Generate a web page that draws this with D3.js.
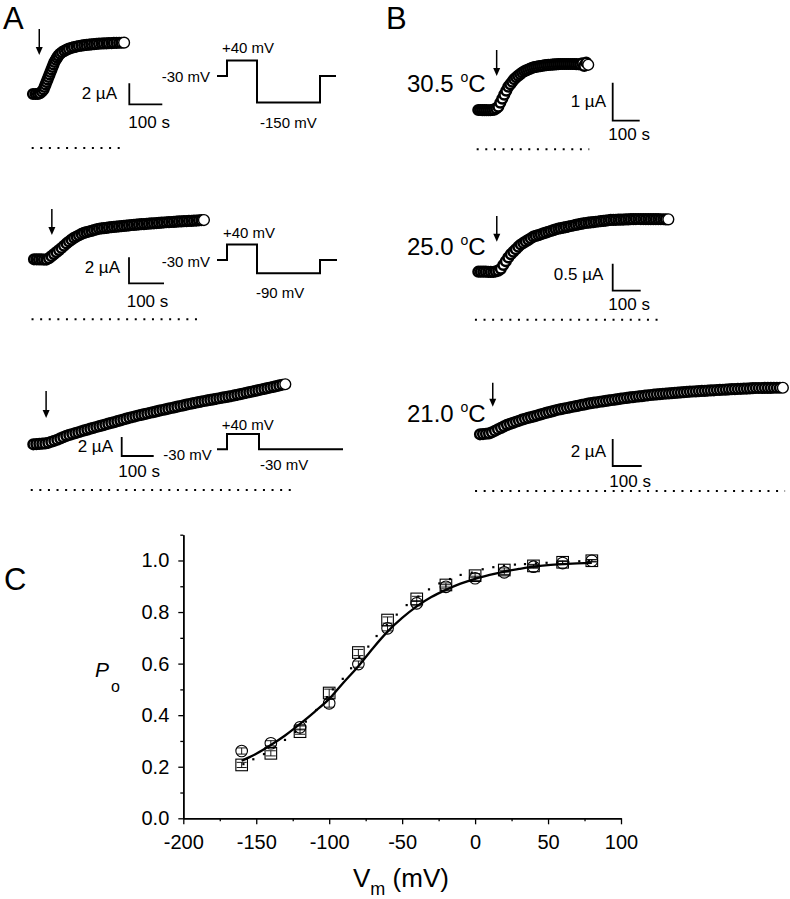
<!DOCTYPE html>
<html><head><meta charset="utf-8">
<script src="https://cdn.jsdelivr.net/npm/d3@7"></script>
<style>
body{margin:0;background:#fff}
svg{display:block}
text{font-family:"Liberation Sans",Arial,Helvetica,sans-serif;fill:#000}
</style>
</head><body>
<svg id="fig" width="790" height="899"></svg>
<script>
// ---------------- DATA ----------------
// Current traces (time in s, current in µA relative to start)
const traceA1Time = [0,8,15,21,27,32,35,38,41,44,47,50,53,56,59,62,65,69,73,77,82,88,95,102,109,117,124,132,139,147,155,162,170,177,185,192,200,208,215,223,230,238,245,253,261,268,276];
const traceA1Current = [0,0,0,0.07,0.24,0.43,0.67,0.90,1.14,1.38,1.62,1.86,2.10,2.33,2.57,2.81,3.05,3.26,3.47,3.66,3.83,3.98,4.11,4.23,4.32,4.40,4.47,4.52,4.57,4.61,4.65,4.67,4.70,4.73,4.75,4.77,4.79,4.81,4.82,4.83,4.84,4.85,4.86,4.87,4.88,4.88,4.89];

const traceA2Step = 7.14; // s between samples
const traceA2Current = [0,0,-0.01,-0.01,-0.02,-0.02,0.09,0.24,0.40,0.55,0.71,0.87,1.04,1.22,1.37,1.51,1.65,1.75,1.85,1.95,2.03,2.09,2.14,2.19,2.25,2.30,2.35,2.38,2.40,2.42,2.45,2.47,2.49,2.51,2.53,2.55,2.57,2.59,2.61,2.64,2.65,2.67,2.68,2.70,2.71,2.73,2.74,2.76,2.77,2.79,2.80,2.82,2.83,2.85,2.86,2.87,2.88,2.90,2.91,2.92,2.93,2.94,2.95,2.96,2.97,2.98,3.00,3.01,3.02];

const traceA3Step = 9.375;
const traceA3Current = [0,0.02,0.05,0.07,0.09,0.16,0.27,0.37,0.48,0.62,0.75,0.89,0.99,1.08,1.18,1.27,1.37,1.46,1.55,1.64,1.73,1.82,1.91,1.99,2.08,2.17,2.26,2.34,2.43,2.52,2.61,2.70,2.79,2.87,2.95,3.03,3.10,3.17,3.24,3.32,3.39,3.46,3.54,3.61,3.68,3.75,3.82,3.89,3.96,4.03,4.10,4.17,4.24,4.31,4.37,4.44,4.50,4.56,4.62,4.67,4.73,4.79,4.85,4.91,4.96,5.02,5.08,5.14,5.21,5.28,5.35,5.42,5.49,5.56,5.63,5.70,5.77,5.84,5.91,5.98,6.05,6.12,6.20,6.27,6.32];

const traceB1Step = 7.4;
const traceB1Current = [0,0,-0.003,-0.004,-0.005,-0.007,-0.007,0.002,0.010,0.042,0.087,0.192,0.297,0.403,0.508,0.613,0.679,0.745,0.811,0.861,0.903,0.945,0.987,1.020,1.043,1.066,1.089,1.112,1.128,1.137,1.146,1.155,1.164,1.173,1.182,1.187,1.191,1.195,1.199,1.203,1.207,1.211,1.211,1.211,1.211,1.211,1.211,1.211,1.210,1.207,1.204,1.201,1.23,1.16,1.25,1.19];

const traceB2Step = 8.93;
const traceB2Current = [0,0,0,0,-0.005,-0.005,-0.006,0.007,0.021,0.053,0.124,0.193,0.262,0.324,0.370,0.416,0.463,0.503,0.532,0.561,0.590,0.619,0.648,0.663,0.678,0.693,0.709,0.724,0.739,0.754,0.769,0.785,0.796,0.806,0.816,0.826,0.836,0.846,0.856,0.866,0.876,0.886,0.896,0.902,0.907,0.913,0.919,0.925,0.930,0.936,0.942,0.947,0.953,0.958,0.959,0.961,0.963,0.964,0.966,0.968,0.970,0.972,0.973,0.975,0.976,0.975,0.975,0.974,0.974,0.973,0.973,0.972,0.972,0.971,0.971,0.970,0.970];

const traceB3Step = 10.34;
const traceB3Current = [0,0.02,0.04,0.07,0.15,0.26,0.37,0.48,0.59,0.70,0.77,0.85,0.93,1.00,1.08,1.15,1.21,1.27,1.33,1.39,1.46,1.52,1.58,1.64,1.70,1.76,1.82,1.86,1.91,1.95,2.00,2.04,2.09,2.13,2.18,2.22,2.27,2.31,2.34,2.37,2.41,2.44,2.47,2.51,2.54,2.57,2.61,2.64,2.67,2.70,2.73,2.75,2.78,2.81,2.83,2.86,2.89,2.91,2.94,2.96,2.98,3.00,3.02,3.03,3.05,3.07,3.09,3.10,3.12,3.14,3.16,3.17,3.18,3.20,3.21,3.22,3.24,3.25,3.26,3.28,3.29,3.30,3.31,3.33,3.34,3.35,3.36,3.37,3.38,3.39,3.40,3.42,3.43,3.43,3.43,3.44,3.44,3.44,3.45,3.45,3.45,3.45];

// zero-current level (µA) and its time span [from, to] (s)
const zeroLevels = {A1:-5.14, A2:-4.62, A3:-4.81, B1:-1.03, B2:-0.89, B3:-4.2};
const zeroSpans  = {A1:[-4,279], A2:[-7,479], A3:[-8,809], B1:[-6,411], B2:[-12,659], B3:[-17,1052]};
// time of solution change (arrow), s
const arrowTimes = {A1:19, A2:51, A3:40, B1:68, B2:66, B3:44};
// scale bars: current (µA), time 100 s
const scaleBarCurrent = {A1:2, A2:2, A3:2, B1:1, B2:0.5, B3:2};
const scaleBarCurrentLabel = {A1:"2 µA", A2:"2 µA", A3:"2 µA", B1:"1 µA", B2:"0.5 µA", B3:"2 µA"};
const temperatures = {B1:"30.5", B2:"25.0", B3:"21.0"};

// voltage protocols (mV) and step durations (arbitrary)
const protocolA1Levels = [-30, 40, -150, -30], protocolA1Durations = [10, 30, 63, 16];
const protocolA2Levels = [-30, 40, -90, -30],  protocolA2Durations = [10, 30, 63, 17];
const protocolA3Levels = [-30, 40, -30],       protocolA3Durations = [10, 32, 84];

// Panel C: open probability vs membrane potential
const voltages = [-160,-140,-120,-100,-80,-60,-40,-20,0,20,40,60,80];
const poCircles = [0.261,0.291,0.353,0.446,0.598,0.737,0.834,0.898,0.931,0.954,0.976,0.990,0.999];
const poCirclesErr = [0.012,0.010,0.010,0.015,0.012,0.010,0.010,0.008,0.008,0.008,0.006,0.006,0.004];
const poSquares = [0.207,0.252,0.336,0.486,0.643,0.769,0.851,0.905,0.941,0.963,0.979,0.993,0.999];
const poSquaresErr = [0.010,0.010,0.010,0.015,0.012,0.012,0.010,0.008,0.008,0.008,0.006,0.006,0.004];
const fitV = [-160,-150,-140,-130,-120,-110,-100,-90,-80,-70,-60,-50,-40,-30,-20,-10,0,10,20,30,40,50,60,70,80];
const fitPo = [0.223,0.250,0.284,0.322,0.366,0.413,0.463,0.528,0.590,0.660,0.724,0.777,0.822,0.858,0.886,0.910,0.929,0.944,0.957,0.967,0.976,0.982,0.986,0.989,0.991];
const dotV = [-158.8,-152,-144.7,-137.5,-130.3,-123.2,-116,-108.8,-101.5,-97.5,-90.7,-85,-79.4,-73.2,-67.5,-60.5,-53.7,-46.9,-38.9,-31.6,-24.5,-17.2,-9.9,-2.3,5.2,12.5,19.8,27.3,34.2,41.7,49,56.5,63.9,71.4,78];
const dotPo = [0.21,0.229,0.249,0.275,0.304,0.335,0.375,0.42,0.47,0.50,0.541,0.582,0.625,0.666,0.707,0.75,0.79,0.827,0.86,0.888,0.911,0.928,0.944,0.953,0.966,0.974,0.98,0.984,0.986,0.989,0.991,0.992,0.994,0.997,0.998];
const xTicksC = [-200,-150,-100,-50,0,50,100];
const yTicksC = [0,0.2,0.4,0.6,0.8,1.0];

// ---------------- LAYOUT ----------------
const FONT = '"Liberation Sans",Arial,Helvetica,sans-serif';
const svg = d3.select("#fig");

const traceLayout = {
  A1:{x0:33,   y0:94,    px100s:33, barPx:21,   bar:[129.3,104.3], barLbl:[117,99],   sLbl:[128.3,128.3], arrow:[29,55]},
  A2:{x0:34,   y0:259.3, px100s:35, barPx:26,   bar:[129,283.3],   barLbl:[120,273.3], sLbl:[126.7,306.7], arrow:[209,235]},
  A3:{x0:33.3, y0:444.3, px100s:32, barPx:19,   bar:[121.7,456],   barLbl:[113,451.7], sLbl:[118.3,477.3], arrow:[391,418]},
  B1:{x0:478.3,y0:110,   px100s:27, barPx:38,   bar:[612.7,120.7], barLbl:[606,106.7], sLbl:[608.3,140],   arrow:[50,76],   temp:[407,91.7]},
  B2:{x0:478.3,y0:271.7, px100s:28, barPx:27,   bar:[612.7,290.7], barLbl:[603.3,280], sLbl:[608.3,310],   arrow:[216,241.7], temp:[407,255]},
  B3:{x0:480,  y0:434.3, px100s:29, barPx:27,   bar:[612.7,466],   barLbl:[606,456.7], sLbl:[609.3,486.7], arrow:[382.7,406.7], temp:[407,421.7]}
};

const traceData = {
  A1:{time:traceA1Time, current:traceA1Current},
  A2:{time:traceA2Current.map((_,i)=>i*traceA2Step), current:traceA2Current},
  A3:{time:traceA3Current.map((_,i)=>i*traceA3Step), current:traceA3Current},
  B1:{time:traceB1Current.map((_,i)=>i*traceB1Step), current:traceB1Current},
  B2:{time:traceB2Current.map((_,i)=>i*traceB2Step), current:traceB2Current},
  B3:{time:traceB3Current.map((_,i)=>i*traceB3Step), current:traceB3Current}
};

Object.keys(traceLayout).forEach(id=>{
  const L = traceLayout[id], D = traceData[id];
  const x = d3.scaleLinear().domain([0,100]).range([L.x0, L.x0+L.px100s]);
  const y = d3.scaleLinear().domain([0,scaleBarCurrent[id]]).range([L.y0, L.y0-L.barPx]);
  const g = svg.append("g");
  // zero-current dotted line
  g.append("line")
    .attr("x1",x(zeroSpans[id][0])).attr("x2",x(zeroSpans[id][1]))
    .attr("y1",y(zeroLevels[id])).attr("y2",y(zeroLevels[id]))
    .attr("stroke","#000").attr("stroke-width",2).attr("stroke-dasharray","2 6.6");
  // data circles (open symbols, drawn in time order)
  const pts = D.time.map((t,i)=>({t, c:D.current[i], last: i===D.time.length-1}));
  g.selectAll("circle.s").data(pts).join("circle")
    .attr("cx",d=>x(d.t)).attr("cy",d=>y(d.c))
    .attr("r",d=>d.last?5.4:4.8)
    .attr("fill","#fff").attr("stroke","#000")
    .attr("stroke-width",d=>d.last?1.4:2.6);
  // arrow
  const ax = x(arrowTimes[id]);
  g.append("line").attr("x1",ax).attr("x2",ax).attr("y1",L.arrow[0]).attr("y2",L.arrow[1]-6)
    .attr("stroke","#000").attr("stroke-width",1.5);
  g.append("path").attr("d",`M${ax-3.5},${L.arrow[1]-8}L${ax+3.5},${L.arrow[1]-8}L${ax},${L.arrow[1]}Z`).attr("fill","#000");
  // scale bar
  const vLen = y(0)-y(scaleBarCurrent[id]), hLen = x(100)-x(0);
  g.append("path").attr("d",`M${L.bar[0]},${L.bar[1]-vLen}V${L.bar[1]}H${L.bar[0]+hLen}`)
    .attr("fill","none").attr("stroke","#000").attr("stroke-width",1.8);
  g.append("text").attr("x",L.barLbl[0]).attr("y",L.barLbl[1]).attr("text-anchor","end")
    .attr("font-size",17).text(scaleBarCurrentLabel[id]);
  g.append("text").attr("x",L.sLbl[0]).attr("y",L.sLbl[1]).attr("font-size",17).text("100 s");
  if (L.temp){
    const t = g.append("text").attr("x",L.temp[0]).attr("y",L.temp[1]).attr("font-size",24);
    t.append("tspan").text(temperatures[id]+" ");
    t.append("tspan").attr("font-size",14).attr("dy",-10).text("o");
    t.append("tspan").attr("dy",10).text("C");
  }
});

// voltage protocols
function drawProtocol(levels, durations, x0, yHold, labels){
  const v = d3.scaleLinear().domain([-30,40]).range([yHold, yHold-70*0.22]);
  const t = d3.scaleLinear().domain([0,1]).range([x0, x0+1]);
  let acc = 0, d = "";
  levels.forEach((lv,i)=>{
    d += (i===0?"M":"L")+t(acc)+","+v(lv);
    acc += durations[i];
    d += "L"+t(acc)+","+v(lv);
  });
  svg.append("path").attr("d",d).attr("fill","none").attr("stroke","#000").attr("stroke-width",2);
  labels.forEach(l=>svg.append("text").attr("x",l[0]).attr("y",l[1]).attr("text-anchor",l[3]||"start")
    .attr("font-size",15).text(l[2]));
}
drawProtocol(protocolA1Levels, protocolA1Durations, 217, 76,
  [[210,81.7,"-30 mV","end"],[222,53.3,"+40 mV"],[260,128.3,"-150 mV"]]);
drawProtocol(protocolA2Levels, protocolA2Durations, 217, 260,
  [[210,266.7,"-30 mV","end"],[223,238.3,"+40 mV"],[256,298.3,"-90 mV"]]);
drawProtocol(protocolA3Levels, protocolA3Durations, 217, 449.3,
  [[211.7,460,"-30 mV","end"],[221.7,430,"+40 mV"],[260,470,"-30 mV"]]);

// panel letters
[["A",3,29],["B",386,28.5],["C",4,590]].forEach(p=>
  svg.append("text").attr("x",p[1]).attr("y",p[2]).attr("font-size",31).text(p[0]));

// ---------------- PANEL C ----------------
const xC = d3.scaleLinear().domain([-200,100]).range([183.3,621]);
const yC = d3.scaleLinear().domain([0,1.1]).range([818.3,534.7]);
const gC = svg.append("g");

function styleAxis(g){
  g.attr("font-family",FONT).attr("font-size",20);
  g.selectAll("path.domain").attr("stroke-width",1.5);
  g.selectAll(".tick line").attr("stroke-width",1.3);
  g.selectAll("text").attr("fill","#000");
}
gC.append("g").attr("transform","translate(0,818.3)")
  .call(d3.axisBottom(xC).tickValues([-175,-125,-75,-25,25,75]).tickSize(3).tickSizeOuter(0).tickFormat(""))
  .call(styleAxis);
gC.append("g").attr("transform","translate(0,818.3)")
  .call(d3.axisBottom(xC).tickValues(xTicksC).tickSize(6).tickSizeOuter(0).tickPadding(10.5).tickFormat(d=>String(d)))
  .call(styleAxis);
gC.append("g").attr("transform","translate(183.3,0)")
  .call(d3.axisLeft(yC).tickValues([0.1,0.3,0.5,0.7,0.9,1.1]).tickSize(3).tickSizeOuter(0).tickFormat(""))
  .call(styleAxis);
gC.append("g").attr("transform","translate(183.3,0)")
  .call(d3.axisLeft(yC).tickValues(yTicksC).tickSize(5).tickSizeOuter(0).tickPadding(9).tickFormat(d=>d.toFixed(1)))
  .call(styleAxis);

// fit line
gC.append("path").datum(fitV.map((v,i)=>[v,fitPo[i]]))
  .attr("d",d3.line().x(d=>xC(d[0])).y(d=>yC(d[1])).curve(d3.curveMonotoneX))
  .attr("fill","none").attr("stroke","#000").attr("stroke-width",2.3);
// dotted fit
gC.selectAll("rect.dot").data(dotV.map((v,i)=>[v,dotPo[i]])).join("rect")
  .attr("x",d=>xC(d[0])-1.1).attr("y",d=>yC(d[1])-1.1).attr("width",2.2).attr("height",2.2).attr("fill","#000");

// error bars
function errBars(vals, errs){
  voltages.forEach((v,i)=>{
    const cx = xC(v), y1 = yC(vals[i]-errs[i]), y2 = yC(vals[i]+errs[i]);
    gC.append("path").attr("d",`M${cx},${y1}V${y2}M${cx-5},${y1}H${cx+5}M${cx-5},${y2}H${cx+5}`)
      .attr("stroke","#000").attr("stroke-width",0.9).attr("fill","none");
  });
}
errBars(poCircles, poCirclesErr);
errBars(poSquares, poSquaresErr);
gC.selectAll("circle.m").data(voltages).join("circle")
  .attr("cx",d=>xC(d)).attr("cy",(d,i)=>yC(poCircles[i])).attr("r",5.8)
  .attr("fill","none").attr("stroke","#000").attr("stroke-width",1.1);
gC.selectAll("rect.m").data(voltages).join("rect")
  .attr("x",d=>xC(d)-5.8).attr("y",(d,i)=>yC(poSquares[i])-5.8).attr("width",11.6).attr("height",11.6)
  .attr("fill","none").attr("stroke","#000").attr("stroke-width",1.1);

// axis titles
svg.append("text").attr("x",95).attr("y",676.7).attr("font-size",21).attr("font-style","italic").text("P");
svg.append("text").attr("x",111).attr("y",692).attr("font-size",16).text("o");
const vt = svg.append("text").attr("x",353).attr("y",886.7).attr("font-size",26);
vt.append("tspan").text("V");
vt.append("tspan").attr("font-size",18).attr("dy",8).text("m");
vt.append("tspan").attr("dy",-8).text(" (mV)");
</script>
</body></html>
